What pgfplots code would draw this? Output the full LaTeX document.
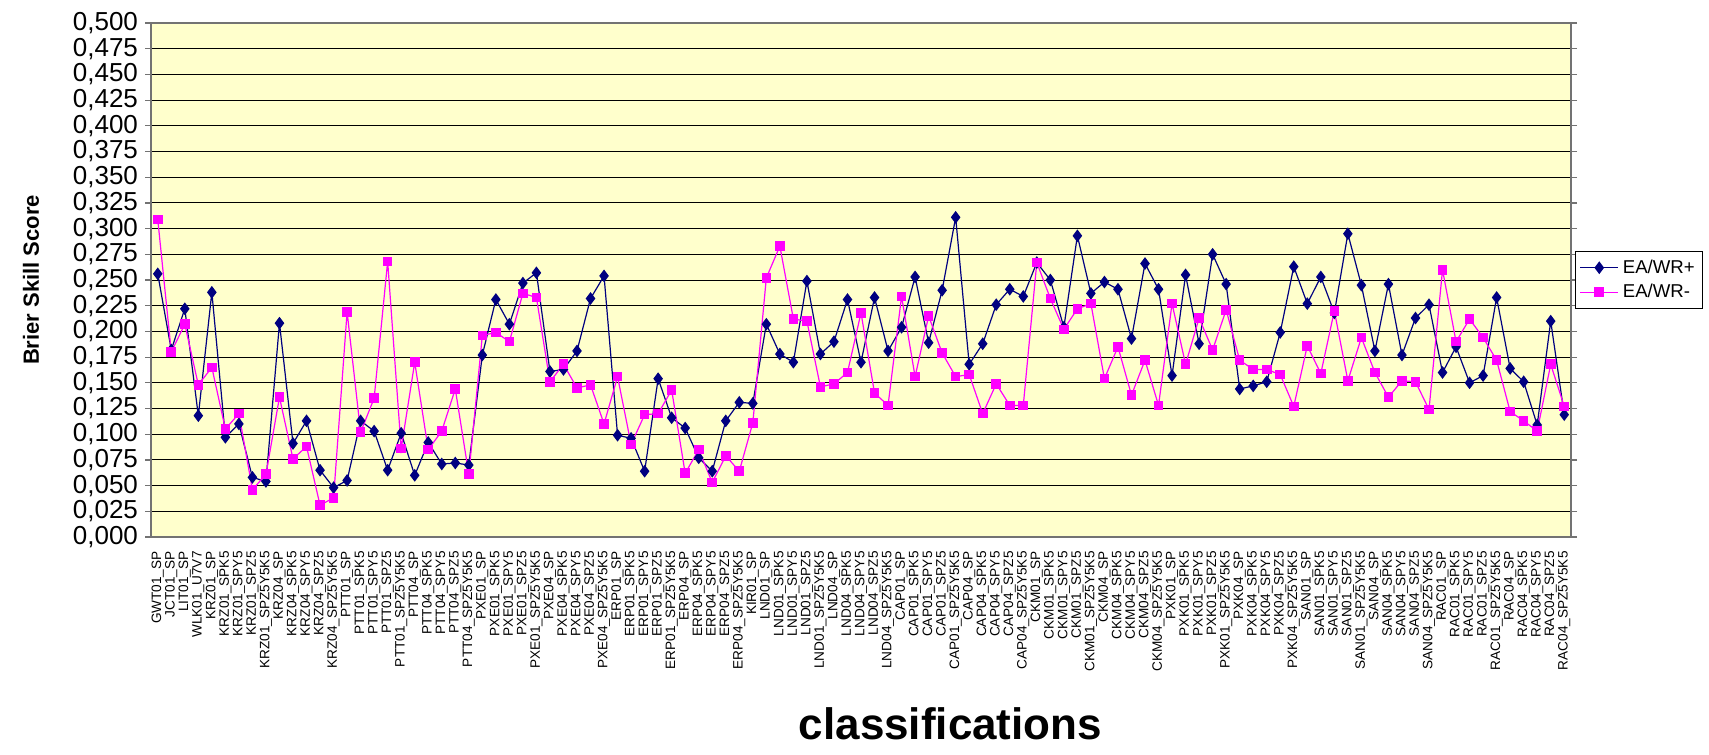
\documentclass[border=0pt]{standalone}
\usepackage{fontspec}
\setmainfont{Liberation Sans}
\usepackage{pgfplots}
\usepackage{pgfplotstable}
\pgfplotsset{compat=1.18}
\definecolor{bgyellow}{HTML}{FFFFCC}
\definecolor{navyblue}{HTML}{000080}
\definecolor{mag}{HTML}{FF00FF}

% Brier skill score per classification, EA/WR+ and EA/WR-
\pgfplotstableread{
i plus minus
0 0.256 0.309
1 0.182 0.180
2 0.222 0.207
3 0.118 0.148
4 0.238 0.165
5 0.097 0.105
6 0.110 0.120
7 0.058 0.046
8 0.054 0.061
9 0.208 0.136
10 0.091 0.076
11 0.113 0.088
12 0.065 0.031
13 0.048 0.038
14 0.055 0.219
15 0.113 0.102
16 0.103 0.135
17 0.065 0.268
18 0.101 0.086
19 0.060 0.170
20 0.092 0.085
21 0.071 0.103
22 0.072 0.144
23 0.070 0.061
24 0.177 0.196
25 0.231 0.199
26 0.207 0.190
27 0.247 0.237
28 0.257 0.233
29 0.161 0.151
30 0.163 0.168
31 0.181 0.145
32 0.232 0.148
33 0.254 0.110
34 0.099 0.156
35 0.096 0.090
36 0.064 0.119
37 0.154 0.120
38 0.116 0.143
39 0.106 0.062
40 0.077 0.085
41 0.064 0.053
42 0.113 0.079
43 0.131 0.064
44 0.130 0.111
45 0.207 0.252
46 0.178 0.283
47 0.170 0.212
48 0.249 0.210
49 0.178 0.146
50 0.190 0.149
51 0.231 0.160
52 0.170 0.218
53 0.233 0.140
54 0.181 0.128
55 0.204 0.234
56 0.253 0.156
57 0.189 0.215
58 0.240 0.179
59 0.311 0.156
60 0.168 0.158
61 0.188 0.120
62 0.226 0.149
63 0.241 0.128
64 0.234 0.128
65 0.267 0.267
66 0.250 0.232
67 0.204 0.202
68 0.293 0.222
69 0.237 0.227
70 0.248 0.154
71 0.241 0.185
72 0.193 0.138
73 0.266 0.172
74 0.241 0.128
75 0.157 0.227
76 0.255 0.168
77 0.188 0.213
78 0.275 0.182
79 0.246 0.221
80 0.144 0.172
81 0.147 0.163
82 0.151 0.163
83 0.199 0.158
84 0.263 0.127
85 0.227 0.186
86 0.253 0.159
87 0.218 0.220
88 0.295 0.152
89 0.245 0.194
90 0.181 0.160
91 0.246 0.136
92 0.177 0.152
93 0.213 0.151
94 0.226 0.124
95 0.160 0.260
96 0.185 0.190
97 0.150 0.212
98 0.157 0.194
99 0.233 0.172
100 0.164 0.122
101 0.151 0.113
102 0.109 0.103
103 0.210 0.168
104 0.119 0.127
}\bss

\begin{document}
\begin{tikzpicture}
\useasboundingbox (-75.5pt,-109pt) rectangle (779pt,268.5pt);
\begin{axis}[
    at={(0pt,0pt)}, anchor=south west,
    scale only axis, width=710pt, height=257pt,
    xmin=-0.5, xmax=104.5, ymin=0, ymax=0.5,
    axis background/.style={fill=bgyellow},
    axis line style={draw=gray!90!black, line width=0.8pt},
    ymajorgrids, major grid style={black, line width=0.5pt},
    tick align=outside, major tick length=3pt, minor tick length=3pt,
    ytick style={gray!90!black, line width=0.6pt},
    xtick style={draw=none},
    minor xtick={-0.5,0.5,...,104.5},
    minor x tick style={mag, line width=0.6pt},
    ytick distance=0.025,
    yticklabel style={font=\fontsize{13}{14}\selectfont},
    /pgf/number format/.cd, fixed, fixed zerofill, precision=3, use comma, assume math mode=true,
    /pgfplots/.cd,
    xtick={0,...,104},
    xticklabels={GWT01\_SP,JCT01\_SP,LIT01\_SP,WLK01\_U7V7,
      KRZ01\_SP,KRZ01\_SPK5,KRZ01\_SPY5,KRZ01\_SPZ5,KRZ01\_SPZ5Y5K5,
      KRZ04\_SP,KRZ04\_SPK5,KRZ04\_SPY5,KRZ04\_SPZ5,KRZ04\_SPZ5Y5K5,
      PTT01\_SP,PTT01\_SPK5,PTT01\_SPY5,PTT01\_SPZ5,PTT01\_SPZ5Y5K5,
      PTT04\_SP,PTT04\_SPK5,PTT04\_SPY5,PTT04\_SPZ5,PTT04\_SPZ5Y5K5,
      PXE01\_SP,PXE01\_SPK5,PXE01\_SPY5,PXE01\_SPZ5,PXE01\_SPZ5Y5K5,
      PXE04\_SP,PXE04\_SPK5,PXE04\_SPY5,PXE04\_SPZ5,PXE04\_SPZ5Y5K5,
      ERP01\_SP,ERP01\_SPK5,ERP01\_SPY5,ERP01\_SPZ5,ERP01\_SPZ5Y5K5,
      ERP04\_SP,ERP04\_SPK5,ERP04\_SPY5,ERP04\_SPZ5,ERP04\_SPZ5Y5K5,
      KIR01\_SP,
      LND01\_SP,LND01\_SPK5,LND01\_SPY5,LND01\_SPZ5,LND01\_SPZ5Y5K5,
      LND04\_SP,LND04\_SPK5,LND04\_SPY5,LND04\_SPZ5,LND04\_SPZ5Y5K5,
      CAP01\_SP,CAP01\_SPK5,CAP01\_SPY5,CAP01\_SPZ5,CAP01\_SPZ5Y5K5,
      CAP04\_SP,CAP04\_SPK5,CAP04\_SPY5,CAP04\_SPZ5,CAP04\_SPZ5Y5K5,
      CKM01\_SP,CKM01\_SPK5,CKM01\_SPY5,CKM01\_SPZ5,CKM01\_SPZ5Y5K5,
      CKM04\_SP,CKM04\_SPK5,CKM04\_SPY5,CKM04\_SPZ5,CKM04\_SPZ5Y5K5,
      PXK01\_SP,PXK01\_SPK5,PXK01\_SPY5,PXK01\_SPZ5,PXK01\_SPZ5Y5K5,
      PXK04\_SP,PXK04\_SPK5,PXK04\_SPY5,PXK04\_SPZ5,PXK04\_SPZ5Y5K5,
      SAN01\_SP,SAN01\_SPK5,SAN01\_SPY5,SAN01\_SPZ5,SAN01\_SPZ5Y5K5,
      SAN04\_SP,SAN04\_SPK5,SAN04\_SPY5,SAN04\_SPZ5,SAN04\_SPZ5Y5K5,
      RAC01\_SP,RAC01\_SPK5,RAC01\_SPY5,RAC01\_SPZ5,RAC01\_SPZ5Y5K5,
      RAC04\_SP,RAC04\_SPK5,RAC04\_SPY5,RAC04\_SPZ5,RAC04\_SPZ5Y5K5},
    xticklabel style={rotate=90, anchor=east, font=\fontsize{6.8}{7.5}\selectfont, inner sep=1pt},
    xticklabel shift=3pt,
    xlabel={classifications},
    xlabel style={font=\bfseries\fontsize{22}{26}\selectfont, at={(axis description cs:0.563,-0.364)}, anchor=center},
    ylabel={Brier Skill Score},
    ylabel style={font=\bfseries\fontsize{11}{13}\selectfont, at={(axis description cs:-0.0845,0.5)}, anchor=center},
    legend style={at={(1.003,0.5)}, anchor=west, draw=black, fill=white,
      font=\fontsize{9.3}{11.5}\selectfont, cells={anchor=west}, inner sep=2pt},
    legend image code/.code={\draw[#1,mark repeat=2,mark phase=2] plot coordinates {(0pt,0pt)(9.5pt,0pt)(19pt,0pt)};},
]
\addplot[navyblue, line width=0.6pt, mark=diamond*, mark size=2.7pt, mark options={fill=navyblue}] table[x=i, y=plus] {\bss};
\addplot[mag, line width=0.6pt, mark=square*, mark size=2.1pt, mark options={fill=mag}] table[x=i, y=minus] {\bss};
\legend{EA/WR+, EA/WR-}
\end{axis}
\end{tikzpicture}
\end{document}
